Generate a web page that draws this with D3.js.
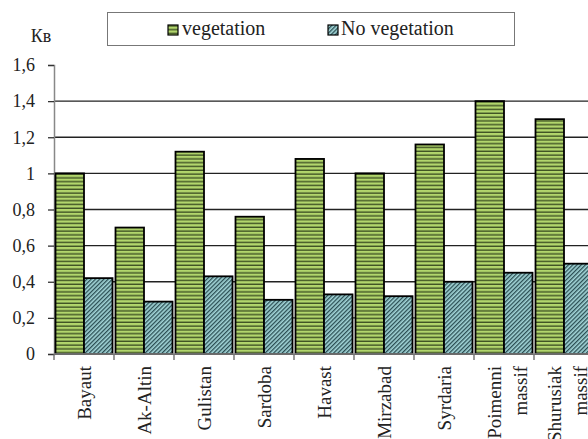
<!DOCTYPE html>
<html>
<head>
<meta charset="utf-8">
<script src="https://cdn.jsdelivr.net/npm/d3@7"></script>
</head>
<body style="margin:0;background:#fff">
<svg id="s" width="588" height="439" style="display:block"></svg>
<script>
// ---- data ----
const categories = [
  ["Bayaut"], ["Ak-Altin"], ["Gulistan"], ["Sardoba"], ["Havast"],
  ["Mirzabad"], ["Syrdaria"], ["Poimenni", "massif"], ["Shurusiak", "massif"]
];
const seriesNames = ["vegetation", "No vegetation"];
const vegetation    = [1.00, 0.70, 1.12, 0.76, 1.08, 1.00, 1.16, 1.40, 1.30];
const noVegetation  = [0.42, 0.29, 0.43, 0.30, 0.33, 0.32, 0.40, 0.45, 0.50];
const yTicks = [0, 0.2, 0.4, 0.6, 0.8, 1, 1.2, 1.4, 1.6];
const yAxisTitle = "Кв";

const FONT = "'Liberation Serif', serif";
function serif(sel) { return sel.attr("font-family", '"Liberation Serif"').style("font-family", FONT); }

// ---- layout ----
const svg = d3.select("#s");
const mLeft = 54, mRight = 594, mTop = 65, mBottom = 354;

const keys = categories.map(c => c.join(" "));
const x = d3.scaleBand().domain(keys).range([mLeft, mRight]).paddingInner(0.05).paddingOuter(0.025);
const xs = d3.scaleBand().domain(seriesNames).range([0, x.bandwidth()]);
const y = d3.scaleLinear().domain([0, 1.6]).range([mBottom, mTop]);

// ---- patterns ----
const defs = svg.append("defs");
const pg = defs.append("pattern").attr("id", "pGreen").attr("patternUnits", "userSpaceOnUse")
  .attr("width", 8).attr("height", 3.8);
pg.append("rect").attr("width", 8).attr("height", 3.8).attr("fill", "#b2d66c");
pg.append("rect").attr("y", 2.4).attr("width", 8).attr("height", 1.4).attr("fill", "#3f5224");

const pb = defs.append("pattern").attr("id", "pBlue").attr("patternUnits", "userSpaceOnUse")
  .attr("width", 3).attr("height", 3).attr("patternTransform", "rotate(45)");
pb.append("rect").attr("width", 3).attr("height", 3).attr("fill", "#a3d6d8");
pb.append("rect").attr("width", 1.3).attr("height", 3).attr("fill", "#2a4d52");

const fills = ["url(#pGreen)", "url(#pBlue)"];

// ---- legend (drawn first) ----
const lg = svg.append("g");
lg.append("rect").attr("x", 107.5).attr("y", 12.5).attr("width", 407).attr("height", 33)
  .attr("fill", "#fff").attr("stroke", "#777").attr("stroke-width", 1);
const legendItems = [{ name: seriesNames[0], sx: 168, tx: 182 }, { name: seriesNames[1], sx: 328, tx: 341 }];
legendItems.forEach((it, i) => {
  lg.append("rect").attr("x", it.sx).attr("y", 25).attr("width", 10).attr("height", 10)
    .attr("fill", fills[i]).attr("stroke", "#000").attr("stroke-width", 1.2);
  serif(lg.append("text")).attr("x", it.tx).attr("y", 35)
    .attr("font-size", 20).attr("fill", "#222").text(it.name);
});

// ---- gridlines ----
svg.append("g").selectAll("line").data(yTicks.filter(t => t > 0 && t < 1.6)).join("line")
  .attr("x1", mLeft).attr("x2", 588)
  .attr("y1", d => y(d)).attr("y2", d => y(d))
  .attr("stroke", "#222").attr("stroke-width", 1.3);

// ---- y axis ----
const yAxis = svg.append("g").attr("transform", `translate(${mLeft},0)`)
  .call(d3.axisLeft(y).tickValues(yTicks).tickSize(6).tickPadding(13)
    .tickFormat(d => String(+d.toFixed(1)).replace(".", ",")));
serif(yAxis).attr("font-size", 18);
yAxis.select(".domain").attr("stroke", "#888").attr("stroke-width", 1.5);
yAxis.selectAll(".tick line").attr("stroke", "#333").attr("stroke-width", 1.3);
serif(yAxis.selectAll("text")).attr("font-size", 18).attr("fill", "#222");

serif(svg.append("text")).attr("x", 41).attr("y", 42).attr("text-anchor", "middle")
  .attr("font-size", 18).attr("fill", "#222").text(yAxisTitle);

// ---- bars ----
const data = categories.map((c, i) => ({ key: keys[i], vals: [vegetation[i], noVegetation[i]] }));
const groups = svg.append("g").selectAll("g").data(data).join("g")
  .attr("transform", d => `translate(${x(d.key)},0)`);
groups.selectAll("rect").data(d => d.vals.map((v, j) => ({ v, s: seriesNames[j], j }))).join("rect")
  .attr("x", d => xs(d.s))
  .attr("width", xs.bandwidth())
  .attr("y", d => y(d.v))
  .attr("height", d => mBottom - y(d.v))
  .attr("fill", d => fills[d.j])
  .attr("stroke", "#000").attr("stroke-width", 1.8);

// ---- x axis ----
const xAxisG = svg.append("g").attr("transform", `translate(0,${mBottom})`);
xAxisG.append("line").attr("x1", mLeft).attr("x2", 588).attr("stroke", "#888").attr("stroke-width", 1.5);
const bounds = keys.map(k => x(k) - x.step() * x.paddingInner() / 2).concat([mRight]);
xAxisG.selectAll(".tk").data(bounds).join("line").attr("class", "tk")
  .attr("x1", d => d).attr("x2", d => d).attr("y1", 0).attr("y2", 6)
  .attr("stroke", "#666").attr("stroke-width", 1.3);

const labels = serif(svg.append("g").selectAll("text").data(categories).join("text"))
  .attr("transform", (c, i) => `translate(${x(keys[i]) + x.bandwidth() / 2},366) rotate(-90)`)
  .attr("text-anchor", "end").attr("font-size", 19).attr("fill", "#222");
labels.each(function (c) {
  const t = d3.select(this);
  if (c.length === 1) {
    serif(t.append("tspan")).attr("x", 0).attr("y", 6.5).text(c[0]);
  } else {
    serif(t.append("tspan")).attr("x", 0).attr("y", -3.5).text(c[0]);
    serif(t.append("tspan")).attr("x", 0).attr("y", 22.5).text(c[1]);
  }
});
</script>
</body>
</html>
